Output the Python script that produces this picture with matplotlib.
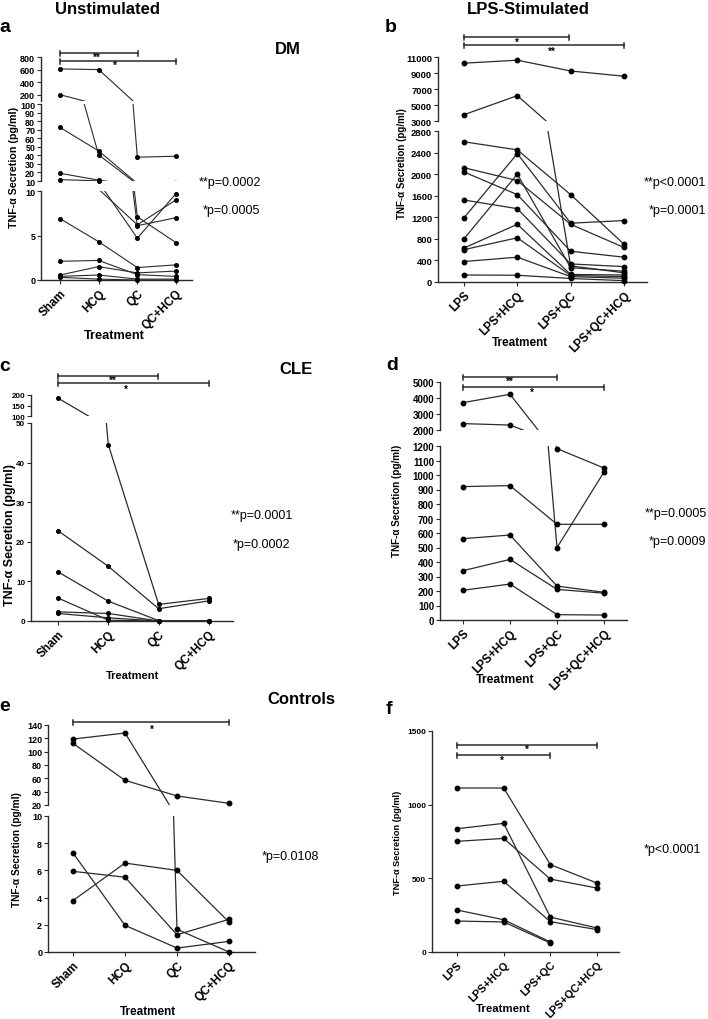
import numpy as np
import matplotlib

matplotlib.use("Agg")
import matplotlib.pyplot as plt

plt.rcParams["font.family"] = ["Liberation Sans", "DejaVu Sans"]

W, H = 708, 1020

unstim_groups = ["Sham", "HCQ", "QC", "QC+HCQ"]
lps_groups = ["LPS", "LPS+HCQ", "LPS+QC", "LPS+QC+HCQ"]

# a: DM, unstimulated (one entry per subject)
dm_sham = [610, 200, 72.6, 19, 11.6, 6.9, 2.1, 0.56, 0.41, 0.3]
dm_hcq = [600, 40.5, 45.2, 11, 10.2, 4.3, 2.2, 1.5, 0.56, 0.1]
dm_qc = [37.8, 6.1, 7.1, 4.7, 6.2, 1.4, 0.6, 0.8, 0.1, 0.0]
dm_qc_hcq = [39, 7.0, 4.2, 9.7, 9.0, 1.7, 0.4, 1.0, 0.1, 0.0]

# b: DM, LPS-stimulated
dm_lps = [10230, 3790, 2600, 2120, 2040, 1520, 1190, 800, 630, 600, 380, 130]
dm_lps_hcq = [10600, 6170, 2450, 1880, 1620, 1360, 2380, 2000, 1070, 820, 460, 125]
dm_lps_qc = [9250, 300, 1620, 1070, 570, 335, 1090, 265, 140, 120, 100, 65]
dm_lps_qc_hcq = [8600, 170, 700, 640, 460, 285, 1140, 200, 130, 100, 70, 25]

# c: CLE, unstimulated
cle_sham = [185, 22.8, 12.4, 5.8, 2.3, 1.9]
cle_hcq = [44.5, 13.8, 5.0, 0.2, 1.9, 0.8]
cle_qc = [4.2, 3.1, 0.1, 0.0, 0.0, 0.0]
cle_qc_hcq = [5.7, 5.1, 0.1, 0.0, 0.0, 0.0]

# d: CLE, LPS-stimulated
cle_lps = [3710, 2400, 920, 561, 340, 205]
cle_lps_hcq = [4230, 2310, 927, 586, 418, 248]
cle_lps_qc = [499, 1182, 660, 234, 211, 37]
cle_lps_qc_hcq = [1021, 1048, 660, 191, 185, 34]

# e: controls, unstimulated
ctl_sham = [118.9, 112.4, 7.28, 5.93, 3.78]
ctl_hcq = [128, 57, 1.96, 5.5, 6.54]
ctl_qc = [1.67, 33.6, 0.29, 1.27, 6.0]
ctl_qc_hcq = [0.0, 22.5, 0.78, 2.4, 2.2]

# f: controls, LPS-stimulated
ctl_lps = [1113, 837, 751, 448, 285, 210]
ctl_lps_hcq = [1113, 873, 771, 480, 219, 204]
ctl_lps_qc = [593, 237, 495, 206, 68, 61]
ctl_lps_qc_hcq = [468, 163, 434, 152, np.nan, np.nan]

INK = "#2b2b2b"


def px_axes(fig, left, right, top, bottom):
    return fig.add_axes([left / W, 1 - bottom / H, (right - left) / W, (bottom - top) / H])


def segment_of(v, segments):
    for k, seg in enumerate(segments):
        if seg[0] <= v <= seg[1]:
            return k
    return -1


def draw_panel(fig, cols, names, xs, spine_x, end_x, segments, tick_fs,
               ms=3.2, lw=0.9, xtick_fs=8.5):
    """segments: (lo, hi, y_px_lo, y_px_hi, ticks), bottom segment first."""
    data = np.array(cols, dtype=float).T
    step = (xs[-1] - xs[0]) / 3
    xlim = (-(xs[0] - spine_x) / step, 3 + (end_x - xs[-1]) / step)
    pos = np.arange(4)
    for k, (lo, hi, y_lo, y_hi, ticks) in enumerate(segments):
        ax = px_axes(fig, spine_x, end_x, y_hi, y_lo)
        ax.set_xlim(xlim)
        ax.set_ylim(lo, hi)
        ax.patch.set_alpha(0)
        for s in ("top", "right"):
            ax.spines[s].set_visible(False)
        for s in ("left", "bottom"):
            ax.spines[s].set_linewidth(1.0)
            ax.spines[s].set_color(INK)
        for row in data:
            ax.plot(pos, row, color=INK, lw=lw, zorder=2)
            for i, v in enumerate(row):
                if np.isfinite(v) and segment_of(v, segments) == k:
                    ax.plot(i, v, "o", color="black", ms=ms, clip_on=False, zorder=3)
        ax.set_yticks(ticks)
        ax.set_yticklabels([str(t) for t in ticks], fontweight="bold")
        ax.tick_params(axis="y", labelsize=tick_fs, length=3, width=0.8, pad=1.2, color=INK)
        if k == 0:
            ax.set_xticks(pos)
            ax.set_xticklabels(names, rotation=45, ha="right", rotation_mode="anchor",
                               fontweight="bold", fontsize=xtick_fs)
            ax.tick_params(axis="x", length=3, width=0.8, pad=2, color=INK)
        else:
            ax.spines["bottom"].set_visible(False)
            ax.set_xticks([])


def bracket(ov, x0, x1, y, star, sx, sy):
    ov.plot([x0, x1], [y, y], color=INK, lw=1.1)
    for x in (x0, x1):
        ov.plot([x, x], [y - 2.5, y + 2.5], color=INK, lw=1.1)
    ov.text(sx, sy, star, ha="center", va="center", fontsize=7, fontweight="bold")


fig = plt.figure(figsize=(W / 100, H / 100), dpi=100)

# a
xs_a = [60, 99, 138, 176]
draw_panel(fig, [dm_sham, dm_hcq, dm_qc, dm_qc_hcq], unstim_groups, xs_a, 41, 192,
           [(0, 10, 281, 192, [0, 5, 10]),
            (10, 100, 182, 105, list(range(10, 101, 10))),
            (100, 800, 102, 58, [200, 400, 600, 800])],
           tick_fs=6.5, ms=2.6, lw=0.8)
# b
xs_b = [464, 517, 569, 624]
draw_panel(fig, [dm_lps, dm_lps_hcq, dm_lps_qc, dm_lps_qc_hcq], lps_groups, xs_b, 438, 647,
           [(0, 2800, 283, 132, list(range(0, 2801, 400))),
            (3000, 11000, 122, 58, [3000, 5000, 7000, 9000, 11000])],
           tick_fs=6.8)
# c
xs_c = [58, 108, 158, 209]
draw_panel(fig, [cle_sham, cle_hcq, cle_qc, cle_qc_hcq], unstim_groups, xs_c, 31, 233,
           [(0, 50, 622, 424, [0, 10, 20, 30, 40, 50]),
            (100, 200, 417, 396, [100, 150, 200])],
           tick_fs=5.8, ms=2.6)
# d
xs_d = [463, 510, 557, 604]
draw_panel(fig, [cle_lps, cle_lps_hcq, cle_lps_qc, cle_lps_qc_hcq], lps_groups, xs_d, 440, 627,
           [(0, 1200, 621, 447, list(range(0, 1201, 100))),
            (2000, 5000, 431, 383, [2000, 3000, 4000, 5000])],
           tick_fs=7)
# e
xs_e = [73, 124, 177, 229]
draw_panel(fig, [ctl_sham, ctl_hcq, ctl_qc, ctl_qc_hcq], unstim_groups, xs_e, 48, 255,
           [(0, 10, 953, 817, [0, 2, 4, 6, 8, 10]),
            (20, 140, 806, 726, list(range(20, 141, 20)))],
           tick_fs=6.5)
# f
xs_f = [457, 503, 550, 597]
draw_panel(fig, [ctl_lps, ctl_lps_hcq, ctl_lps_qc, ctl_lps_qc_hcq], lps_groups, xs_f, 432, 619,
           [(0, 1500, 953, 732, [0, 500, 1000, 1500])],
           tick_fs=6, xtick_fs=7.8)

ov = fig.add_axes([0, 0, 1, 1])
ov.set_xlim(0, W)
ov.set_ylim(H, 0)
ov.axis("off")
ov.patch.set_alpha(0)

for txt, x, y in [("Unstimulated", 108, 9), ("LPS-Stimulated", 528, 9),
                  ("DM", 288, 50), ("CLE", 296, 370), ("Controls", 301, 700)]:
    ov.text(x, y, txt, ha="center", va="center", fontsize=12, fontweight="bold")

for txt, x, y in [("a", 5, 28), ("b", 391, 28), ("c", 5, 367),
                  ("d", 392, 366), ("e", 5, 707), ("f", 389, 710)]:
    ov.text(x, y, txt, ha="center", va="center", fontsize=14, fontweight="bold")

ylab = "TNF-\u03b1 Secretion (pg/ml)"
for x, y, fs in [(14, 167, 7.7), (402, 164, 7.0), (10, 535, 9.0),
                 (397, 501, 7.1), (17, 850, 7.3), (397, 843, 6.6)]:
    ov.text(x, y, ylab, ha="center", va="center", rotation=90, fontsize=fs, fontweight="bold")

for x, y, fs in [(114, 336, 9.2), (520, 343, 8.5), (133, 676, 8.0),
                 (505, 680, 8.8), (148, 1012, 8.5), (503, 1009, 8.2)]:
    ov.text(x, y, "Treatment", ha="center", va="center", fontsize=fs, fontweight="bold")

for txt, x, y in [("**p=0.0002", 230, 183), ("*p=0.0005", 231, 211),
                  ("**p<0.0001", 675, 183), ("*p=0.0001", 677, 211),
                  ("**p=0.0001", 262, 516), ("*p=0.0002", 261, 545),
                  ("**p=0.0005", 676, 514), ("*p=0.0009", 677, 542),
                  ("*p=0.0108", 290, 857), ("*p<0.0001", 672, 850)]:
    ov.text(x, y, txt, ha="center", va="center", fontsize=9)

bracket(ov, xs_a[0], xs_a[2], 54, "**", 97, 58)
bracket(ov, xs_a[0], xs_a[3], 62, "*", 115, 66)
bracket(ov, xs_b[0], xs_b[2], 38, "*", 517, 43)
bracket(ov, xs_b[0], xs_b[3], 46, "**", 552, 52)
bracket(ov, xs_c[0], xs_c[2], 377, "**", 113, 381)
bracket(ov, xs_c[0], xs_c[3], 384, "*", 126, 390)
bracket(ov, xs_d[0], xs_d[2], 378, "**", 510, 382)
bracket(ov, xs_d[0], xs_d[3], 388, "*", 532, 393)
bracket(ov, xs_e[0], xs_e[3], 723, "*", 152, 730)
bracket(ov, xs_f[0], xs_f[3], 746, "*", 527, 750)
bracket(ov, xs_f[0], xs_f[2], 756, "*", 502, 761)

fig.savefig("out.png", dpi=100)
